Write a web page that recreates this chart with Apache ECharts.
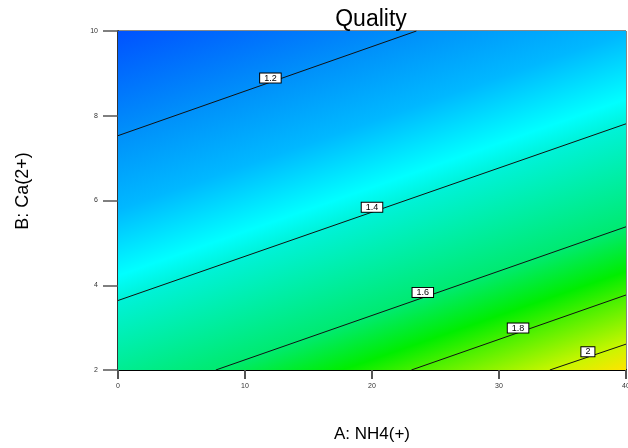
<!DOCTYPE html>
<html>
<head>
<meta charset="utf-8">
<script src="https://cdn.jsdelivr.net/npm/echarts@6/dist/echarts.min.js"></script>
<style>
  html, body { margin: 0; padding: 0; background: #fff; }
  #chart { width: 628px; height: 448px; }
</style>
</head>
<body>
<div id="chart"></div>
<script>
// ---- data ----
const xTicks = [0, 10, 20, 30, 40];
const yTicks = [2, 4, 6, 8, 10];
const levels = [1.2, 1.4, 1.6, 1.8, 2];
const lineStartX = [0, 0, 7.7, 23.1, 34.0];
const lineStartY = [7.53, 3.64, 2, 2, 2];
const lineEndX = [23.5, 40, 40, 40, 40];
const lineEndY = [10, 7.81, 5.38, 3.77, 2.61];
const labelX = [12.0, 20.0, 24.0, 31.5, 37.0];
const labelY = [8.89, 5.84, 3.83, 2.99, 2.43];

// ---- styling ----
const colorMin = '#0052ff';
const levelColors = ['#0090fa', '#00f2d8', '#00ea70', '#44f000', '#c8f600'];
const colorMax = '#ffe400';
const betweenColors = [
  { after: 0, frac: 0.45, color: '#00b8ff' },
  { after: 0, frac: 0.85, color: '#00ffff' },
  { after: 2, frac: 0.65, color: '#00ee00' }
];
const FONT = 'Liberation Sans, Arial, sans-serif';

const chart = echarts.init(document.getElementById('chart'), null, { renderer: 'canvas' });

function renderBackground(params, api) {
  const p0 = api.coord([xTicks[0], yTicks[yTicks.length - 1]]);
  const p3 = api.coord([xTicks[xTicks.length - 1], yTicks[0]]);
  let s = 0;
  const mids = [];
  for (let i = 0; i < levels.length; i++) {
    const a = api.coord([lineStartX[i], lineStartY[i]]);
    const b = api.coord([lineEndX[i], lineEndY[i]]);
    s += (a[1] - b[1]) / (b[0] - a[0]);
    mids.push([(a[0] + b[0]) / 2, (a[1] + b[1]) / 2]);
  }
  s /= levels.length;
  const len = Math.hypot(s, 1);
  const nx = s / len, ny = 1 / len;
  const L = (p3[0] - p0[0]) * nx + (p3[1] - p0[1]) * ny;
  const t = mids.map(m => ((m[0] - p0[0]) * nx + (m[1] - p0[1]) * ny) / L);
  const stops = [{ offset: 0, color: colorMin }];
  for (let i = 0; i < levels.length; i++) {
    stops.push({ offset: Math.min(1, Math.max(0, t[i])), color: levelColors[i] });
    betweenColors.forEach(bc => {
      if (bc.after === i && i + 1 < levels.length) {
        stops.push({ offset: t[i] + bc.frac * (t[i + 1] - t[i]), color: bc.color });
      }
    });
  }
  stops.push({ offset: 1, color: colorMax });
  return {
    type: 'rect',
    shape: { x: p0[0], y: p0[1], width: p3[0] - p0[0], height: p3[1] - p0[1] },
    style: {
      fill: new echarts.graphic.LinearGradient(p0[0], p0[1], p0[0] + nx * L, p0[1] + ny * L, stops, true)
    }
  };
}

const series = [{
  type: 'custom',
  renderItem: renderBackground,
  data: [[xTicks[0], yTicks[0]]],
  z: 1,
  silent: true
}];

levels.forEach((lv, i) => {
  series.push({
    type: 'line',
    data: [[lineStartX[i], lineStartY[i]], [lineEndX[i], lineEndY[i]]],
    symbol: 'none',
    lineStyle: { color: '#111', width: 1 },
    z: 3,
    silent: true,
    animation: false
  });
});

series.push({
  type: 'scatter',
  data: levels.map((lv, i) => [labelX[i], labelY[i], lv]),
  symbolSize: 0,
  z: 5,
  silent: true,
  itemStyle: { opacity: 1 },
  label: {
    show: true,
    position: 'inside',
    formatter: p => String(p.value[2]),
    fontFamily: FONT,
    fontSize: 9,
    lineHeight: 9,
    color: '#000',
    opacity: 1,
    backgroundColor: '#ffffff',
    borderColor: '#000',
    borderWidth: 1,
    padding: [0, 4, 0, 4]
  },
  emphasis: { disabled: true }
});

chart.setOption({
  animation: false,
  backgroundColor: '#fff',
  title: {
    text: 'Quality',
    left: 366,
    textAlign: 'center',
    top: 3,
    textStyle: { fontFamily: FONT, fontSize: 23, fontWeight: 'normal', color: '#000' }
  },
  grid: {
    left: 118, right: 2, top: 31, bottom: 78,
    show: true, borderColor: '#111', borderWidth: 1, backgroundColor: 'transparent',
    containLabel: false,
    outerBoundsMode: 'none'
  },
  xAxis: {
    type: 'value',
    min: xTicks[0], max: xTicks[xTicks.length - 1], interval: 10,
    name: 'A: NH4(+)',
    nameLocation: 'middle',
    nameGap: 56,
    nameTextStyle: { fontFamily: FONT, fontSize: 17, color: '#000' },
    axisLine: { show: true, lineStyle: { color: '#000', width: 2 } },
    axisTick: { show: true, inside: false, length: 9, lineStyle: { color: '#555', width: 2 } },
    axisLabel: { fontFamily: FONT, fontSize: 7, color: '#333', margin: 13 },
    splitLine: { show: false }
  },
  yAxis: {
    type: 'value',
    min: yTicks[0], max: yTicks[yTicks.length - 1], interval: 2,
    axisLine: { show: true, lineStyle: { color: '#333', width: 2 } },
    axisTick: { show: true, inside: false, length: 15, lineStyle: { color: '#555', width: 1.5 } },
    axisLabel: { fontFamily: FONT, fontSize: 7, color: '#333', margin: 20 },
    splitLine: { show: false }
  },
  graphic: [{
    type: 'text',
    x: 23, y: 191,
    rotation: Math.PI / 2,
    style: {
      text: 'B: Ca(2+)',
      textAlign: 'center',
      textVerticalAlign: 'middle',
      fontFamily: FONT,
      fontSize: 18,
      fill: '#000'
    }
  }],
  series: series
});
</script>
</body>
</html>
